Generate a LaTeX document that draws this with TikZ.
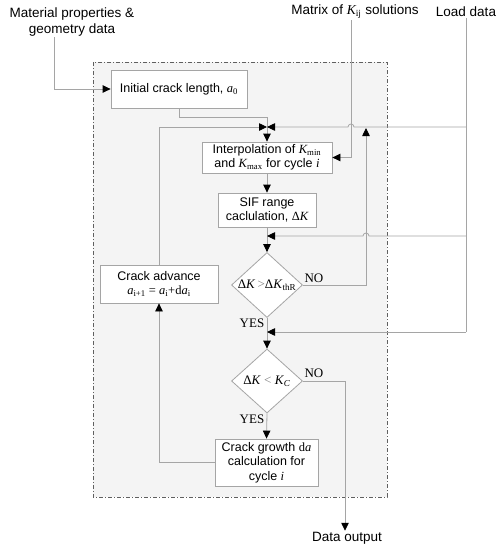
\documentclass[tikz,border=0pt]{standalone}
\usepackage{fontspec}
\setmainfont{Liberation Sans}
\newfontfamily\tms{Liberation Serif}
\usetikzlibrary{arrows.meta,shapes.geometric,calc}
\definecolor{linegray}{RGB}{165,165,165}
\definecolor{framefill}{RGB}{244,244,244}
\definecolor{framedraw}{RGB}{95,95,95}
\newcommand\vK{{\tms\itshape K}}
\newcommand\mysub[1]{\textsubscript{\tms #1}}
\begin{document}
\begin{tikzpicture}[x=1pt,y=-1pt,
  ln/.style={draw=linegray, line width=0.8pt},
  arr/.style={ln, -{Triangle[length=8pt,width=7.5pt,color=black]}},
  txt/.style={align=center, inner sep=1pt, font=\fontsize{13.5}{16}\selectfont},
  box/.style={draw=linegray, line width=0.8pt, fill=white, align=center, inner sep=2pt,
              font=\fontsize{12.5}{14.5}\selectfont},
  dia/.style={diamond, draw=linegray, line width=0.8pt, fill=white, inner sep=0pt, aspect=1,
              minimum width=71pt, minimum height=65pt, font=\fontsize{13}{15}\tms},
  yn/.style={inner sep=0pt, font=\fontsize{13}{15}\tms}]
\useasboundingbox (0,0) rectangle (502,550);
% process frame
\draw[framedraw, line width=0.6pt, fill=framefill, dash pattern=on 4pt off 2pt on 1pt off 2pt]
  (93,62) rectangle (387,497);
% external labels
\node[txt] (mat) at (72,22) {Material properties \&\\geometry data};
\node[txt] (kij) at (355,12) {Matrix of \vK\mysub{ij} solutions};
\node[txt] (load) at (466,12) {Load data};
\node[txt] (out) at (347,538) {Data output};
% boxes
\node[box, minimum width=136pt, minimum height=38pt] (init) at (179,89)
  {Initial crack length, {\tms\itshape a}\mysub{0}};
\node[box, minimum width=130pt, minimum height=31pt] (interp) at (267,157.5)
  {Interpolation of \vK\mysub{min}\\and \vK\mysub{max} for cycle {\tms\itshape i}};
\node[box, minimum width=98pt, minimum height=34pt] (sif) at (267,210)
  {SIF range\\caclulation, {\tms Δ\itshape K}};
\node[dia] (d1) at (267,285)
  {\makebox[0pt]{Δ\textit{K}\,{\color{gray}>}Δ\textit{K}\textsubscript{thR}}};
\node[dia, minimum height=64pt] (d2) at (267,381)
  {\makebox[0pt]{Δ\textit{K}~{\color{gray}<}~\textit{K}\textsubscript{\textit{C}}}};
\node[box, minimum width=103pt, minimum height=47pt] (grow) at (266.5,462.5)
  {Crack growth {\tms d\itshape a}\\calculation for\\cycle {\tms\itshape i}};
\node[box, minimum width=118pt, minimum height=38pt] (adv) at (159,284)
  {Crack advance\\{\tms\itshape a\textsubscript{\upshape i+1}\ {\upshape =}\ a\textsubscript{\upshape i}{\upshape +d}a\textsubscript{\upshape i}}};
% YES / NO labels
\node[yn] (no1) at (314,278) {NO};
\node[yn] (yes1) at (252,323) {YES};
\node[yn] (no2) at (314,373) {NO};
\node[yn] (yes2) at (252,419) {YES};
% junctions and helper points
\coordinate (j1) at (267,127);
\coordinate (j2) at (267,236);
\coordinate (j3) at (267,332);
\coordinate (kline) at (351,20);
\coordinate (noup) at (366,128);
% connectors
\draw[arr] ([xshift=-18pt]mat.south) |- (init.west);
\draw[arr] ([xshift=-4pt]kij.south) |- (interp.east);
\draw[ln] (init.south) -- ++(0,9) -| (j1);
\draw[arr] (j1) -- (interp.north);
\draw[arr] (interp.south) -- (sif.north);
\draw[ln] (sif.south) -- (j2);
\draw[arr] (j2) -- (d1.north);
\draw[ln] (d1.south) -- (j3);
\draw[arr] (j3) -- (d2.north);
\draw[arr] (d2.south) -- (grow.north);
\draw[arr] (d1.east) -| (noup);
\draw[arr] (d2.east) -| ([xshift=-2pt]out.north);
\draw[arr] (grow.west) -| (adv.south);
\draw[arr] (adv.north) |- (j1);
% load data distribution
\draw[ln] (load.south) -- (load.south |- j3);
\draw[arr] (load.south |- j3) -- (j3);
\draw[arr] (load.south |- j1) -- ($(j1 -| kline)+(3pt,0pt)$)
  arc[start angle=0, end angle=180, radius=3pt] -- (j1);
\draw[arr] (load.south |- j2) -- ($(j2 -| noup)+(3pt,0pt)$)
  arc[start angle=0, end angle=180, radius=3pt] -- (j2);
\end{tikzpicture}
\end{document}
